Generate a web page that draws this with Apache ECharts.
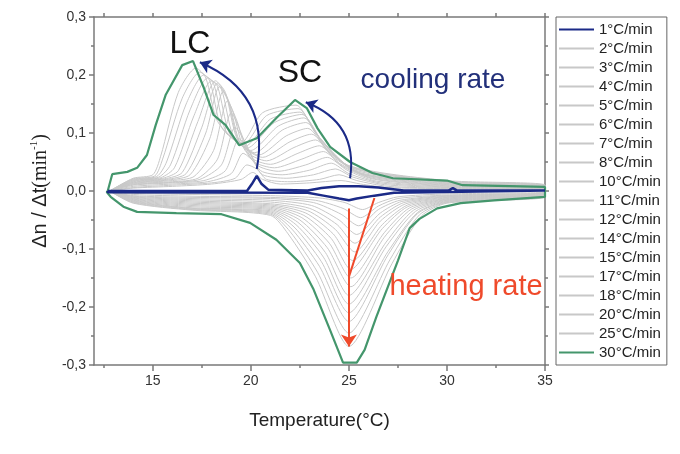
<!DOCTYPE html>
<html><head><meta charset="utf-8">
<script src="https://cdn.jsdelivr.net/npm/echarts@6/dist/echarts.min.js"></script>
<style>html,body{margin:0;padding:0;background:#fff}#c{width:680px;height:454px}</style>
</head><body><div id="c"></div>
<script>
// ---------- data (Temperature °C, Δn/Δt min^-1) ----------
const rateNames = ['1°C/min','2°C/min','3°C/min','4°C/min','5°C/min','6°C/min','7°C/min','8°C/min','10°C/min','11°C/min','12°C/min','14°C/min','15°C/min','17°C/min','18°C/min','20°C/min','25°C/min','30°C/min'];
const xTickValues = [15,20,25,30,35];
const xMinorValues = [12.5,17.5,22.5,27.5,32.5];

const cool1 = [[12.7,0],[19.8,0],[20.05,0.012],[20.3,0.026],[20.55,0.012],[20.9,0.002],[22.9,0.001],[23.6,0.005],[24.5,0.008],[25.5,0.008],[26.5,0.006],[27.8,0.001],[30.1,0.001],[30.3,0.005],[30.5,0.001],[35,0.001]];
const heat1 = [[35,-0.002],[27.3,-0.003],[26.3,-0.008],[25.4,-0.013],[25,-0.016],[24.5,-0.013],[23.7,-0.008],[22.9,-0.003],[12.7,-0.002],[12.7,0]];

const cool2 = [[12.8,0],[14,0.005],[16,0.008],[18,0.012],[19.5,0.02],[20.1,0.032],[20.6,0.02],[21.5,0.012],[23,0.014],[24.6,0.018],[25.6,0.012],[27,0.006],[30,0.004],[35,0.002]];
const heat2 = [[35,-0.002],[30,-0.005],[27.5,-0.01],[26.5,-0.02],[25.7,-0.032],[24.8,-0.02],[23.5,-0.012],[21,-0.008],[17,-0.006],[14,-0.004],[12.8,0]];
const cool3 = [[12.8,0],[14,0.006],[16,0.01],[18,0.014],[19.2,0.022],[19.8,0.045],[20.3,0.038],[20.8,0.02],[22,0.016],[23.5,0.02],[24.5,0.028],[25.4,0.018],[27,0.008],[30,0.005],[35,0.003]];
const heat3 = [[35,-0.003],[30,-0.007],[27.5,-0.013],[26.5,-0.026],[25.6,-0.046],[24.7,-0.03],[23.3,-0.016],[21,-0.011],[17,-0.009],[14,-0.006],[12.8,0]];
const cool4 = [[12.8,0],[14,0.008],[16,0.012],[17.8,0.016],[19,0.03],[19.6,0.065],[20.1,0.052],[20.6,0.028],[21.8,0.022],[23.2,0.028],[24.3,0.038],[25.2,0.024],[26.8,0.011],[30,0.006],[35,0.003]];
const heat4 = [[35,-0.003],[30,-0.008],[27.6,-0.016],[26.5,-0.032],[25.5,-0.06],[24.6,-0.04],[23.2,-0.02],[21,-0.013],[17,-0.011],[14,-0.008],[12.8,0]];
const cool5 = [[12.8,0],[14,0.01],[16,0.014],[17.6,0.018],[18.7,0.035],[19.4,0.09],[19.9,0.07],[20.5,0.035],[21.6,0.028],[23,0.036],[24.1,0.048],[25,0.03],[26.6,0.014],[30,0.007],[35,0.004]];
const heat5 = [[35,-0.004],[30,-0.009],[27.7,-0.018],[26.6,-0.038],[25.4,-0.075],[24.5,-0.05],[23.1,-0.025],[21,-0.016],[17,-0.013],[14,-0.009],[12.8,0]];
const cool6 = [[12.8,0],[14,0.011],[16,0.015],[17.4,0.02],[18.5,0.045],[19.2,0.11],[19.7,0.085],[20.3,0.045],[21.4,0.034],[22.8,0.045],[23.9,0.058],[24.9,0.036],[26.4,0.017],[30,0.008],[35,0.004]];
const heat6 = [[35,-0.004],[30,-0.01],[27.8,-0.02],[26.6,-0.045],[25.3,-0.09],[24.4,-0.058],[23,-0.03],[21,-0.019],[17,-0.015],[14,-0.01],[12.8,0]];
const cool7 = [[12.8,0],[14,0.012],[16,0.016],[17.3,0.022],[18.3,0.055],[19,0.135],[19.5,0.1],[20.1,0.052],[21.2,0.04],[22.6,0.055],[23.7,0.068],[24.7,0.042],[26.3,0.02],[30,0.009],[35,0.005]];
const heat7 = [[35,-0.005],[30,-0.011],[27.9,-0.022],[26.6,-0.052],[25.3,-0.105],[24.3,-0.066],[22.9,-0.034],[21,-0.022],[17,-0.017],[14,-0.011],[12.8,0]];
const cool8 = [[12.8,0],[14,0.013],[16,0.018],[17.1,0.025],[18.1,0.07],[18.8,0.155],[19.3,0.12],[19.9,0.06],[21,0.046],[22.4,0.065],[23.5,0.078],[24.5,0.048],[26.2,0.022],[30,0.01],[35,0.005]];
const heat8 = [[35,-0.005],[30,-0.012],[28,-0.024],[26.7,-0.058],[25.2,-0.12],[24.2,-0.074],[22.8,-0.038],[21,-0.024],[17,-0.019],[14,-0.012],[12.8,0]];
const cool10 = [[12.8,0],[14,0.014],[15.8,0.019],[16.9,0.028],[17.9,0.09],[18.6,0.172],[19.1,0.135],[19.7,0.07],[20.8,0.052],[22.2,0.075],[23.3,0.088],[24.3,0.056],[26,0.025],[30,0.011],[35,0.006]];
const heat10 = [[35,-0.006],[30,-0.013],[28,-0.027],[26.7,-0.065],[25.1,-0.135],[24.1,-0.082],[22.7,-0.042],[21,-0.026],[17,-0.021],[14,-0.013],[12.8,0]];
const cool11 = [[12.8,0],[14,0.015],[15.7,0.02],[16.7,0.03],[17.7,0.1],[18.4,0.18],[18.9,0.15],[19.5,0.08],[20.6,0.058],[22,0.085],[23.1,0.098],[24.1,0.064],[25.8,0.028],[30,0.012],[35,0.006]];
const heat11 = [[35,-0.006],[30,-0.014],[28.1,-0.029],[26.8,-0.072],[25.1,-0.15],[24,-0.09],[22.6,-0.046],[21,-0.028],[17,-0.023],[14,-0.014],[12.8,0]];
const cool12 = [[12.8,0],[14,0.016],[15.6,0.021],[16.5,0.032],[17.5,0.11],[18.3,0.186],[18.8,0.16],[19.4,0.085],[20.4,0.062],[21.8,0.095],[22.9,0.108],[23.9,0.07],[25.6,0.03],[30,0.013],[35,0.007]];
const heat12 = [[35,-0.007],[30,-0.015],[28.2,-0.031],[26.8,-0.08],[25.1,-0.165],[23.9,-0.098],[22.5,-0.05],[21,-0.03],[17,-0.025],[14,-0.015],[12.8,0]];
const cool14 = [[12.8,0],[14,0.017],[15.5,0.022],[16.3,0.035],[17.3,0.12],[18.2,0.19],[18.7,0.17],[19.3,0.09],[20.2,0.066],[21.6,0.105],[22.8,0.118],[23.8,0.076],[25.4,0.033],[30,0.014],[35,0.007]];
const heat14 = [[35,-0.007],[30,-0.016],[28.3,-0.033],[26.9,-0.088],[25,-0.18],[23.8,-0.106],[22.4,-0.054],[21,-0.032],[17,-0.027],[14,-0.016],[12.8,0]];
const cool15 = [[12.8,0],[14,0.018],[15.4,0.023],[16.1,0.04],[17.1,0.13],[18,0.19],[18.5,0.175],[19.1,0.095],[20,0.07],[21.4,0.112],[22.7,0.126],[23.7,0.082],[25.3,0.036],[30,0.015],[35,0.008]];
const heat15 = [[35,-0.008],[30,-0.017],[28.4,-0.035],[26.9,-0.096],[25,-0.195],[23.7,-0.114],[22.3,-0.058],[21,-0.034],[17,-0.029],[14,-0.017],[12.8,0]];
const cool17 = [[12.8,0],[14,0.019],[15.3,0.024],[15.9,0.045],[16.9,0.14],[17.8,0.195],[18.3,0.18],[18.9,0.1],[19.8,0.074],[21.2,0.118],[22.6,0.132],[23.6,0.088],[25.2,0.039],[30,0.016],[35,0.008]];
const heat17 = [[35,-0.008],[30,-0.018],[28.5,-0.037],[27,-0.104],[25,-0.21],[23.6,-0.122],[22.2,-0.062],[21,-0.036],[17,-0.03],[14,-0.018],[12.8,0]];
const cool18 = [[12.8,0],[14,0.02],[15.2,0.025],[15.7,0.05],[16.7,0.15],[17.6,0.2],[18.1,0.185],[18.7,0.105],[19.7,0.077],[21,0.124],[22.5,0.136],[23.5,0.092],[25.1,0.041],[30,0.016],[35,0.009]];
const heat18 = [[35,-0.009],[30,-0.019],[28.5,-0.039],[27,-0.11],[25,-0.225],[23.5,-0.13],[22.1,-0.066],[21,-0.038],[17,-0.031],[14,-0.019],[12.8,0]];
const cool20 = [[12.8,0],[14,0.021],[15.1,0.026],[15.5,0.055],[16.5,0.16],[17.4,0.205],[17.9,0.19],[18.5,0.11],[19.6,0.08],[20.8,0.13],[22.4,0.142],[23.4,0.096],[25,0.043],[30,0.017],[35,0.009]];
const heat20 = [[35,-0.009],[30,-0.02],[28.6,-0.041],[27.1,-0.118],[25,-0.245],[23.4,-0.14],[22,-0.07],[21,-0.04],[17,-0.032],[14,-0.02],[12.8,0]];
const cool25 = [[12.8,0],[14,0.022],[15,0.028],[15.4,0.06],[16.3,0.17],[17.2,0.212],[17.7,0.195],[18.3,0.12],[19.5,0.083],[20.6,0.135],[22.3,0.148],[23.3,0.1],[24.9,0.045],[30,0.018],[35,0.01]];
const heat25 = [[35,-0.01],[30,-0.021],[28.7,-0.043],[27.2,-0.125],[25,-0.268],[23.3,-0.148],[21.9,-0.074],[21,-0.042],[17,-0.033],[14,-0.021],[12.8,0]];

const cool30 = [[12.7,0],[12.93,0.029],[13.7,0.033],[14.2,0.04],[14.7,0.062],[15.15,0.114],[15.66,0.166],[16.5,0.217],[17.05,0.224],[17.6,0.178],[18.1,0.131],[18.7,0.114],[19.4,0.079],[20.3,0.091],[21.3,0.126],[22.25,0.157],[22.85,0.143],[23.4,0.108],[24.04,0.076],[25.06,0.05],[26.2,0.031],[27.25,0.022],[30,0.018],[30.8,0.01],[32.6,0.009],[35,0.007]];
const heat30 = [[35,-0.01],[32.4,-0.016],[30.7,-0.021],[29.5,-0.03],[28.6,-0.048],[28.1,-0.064],[27.5,-0.12],[26.4,-0.217],[25.8,-0.274],[25.4,-0.296],[24.7,-0.296],[24.04,-0.24],[23.2,-0.17],[22.5,-0.124],[21.3,-0.084],[19.96,-0.055],[18.5,-0.04],[16.2,-0.038],[14.2,-0.036],[13.5,-0.027],[12.85,-0.01],[12.65,-0.002],[12.7,0]];

const loops = [
  cool1.concat(heat1), cool2.concat(heat2), cool3.concat(heat3), cool4.concat(heat4),
  cool5.concat(heat5), cool6.concat(heat6), cool7.concat(heat7), cool8.concat(heat8),
  cool10.concat(heat10), cool11.concat(heat11), cool12.concat(heat12), cool14.concat(heat14),
  cool15.concat(heat15), cool17.concat(heat17), cool18.concat(heat18), cool20.concat(heat20),
  cool25.concat(heat25), cool30.concat(heat30)
];

// annotation arrows (data coordinates)
const arrowLC = [[20.3,0.038],[17.4,0.222]];
const arrowSC = [[25.06,0.022],[22.8,0.153]];
const arrowHeat = [[25,-0.03],[25,-0.268]];
const slantHeat = [[25,-0.148],[26.3,-0.012]];

// ---------- chart ----------
const F = '"Liberation Sans", Arial, Helvetica, sans-serif';
const GRAY = '#c8c8c8', GREEN = '#44966c', BLUE = '#1b2a87', RED = '#ef4a2b', NAVY = '#22307a';
const chart = echarts.init(document.getElementById('c'), null, {renderer: 'canvas'});

const series = loops.map((d, i) => {
  const last = i === loops.length - 1, first = i === 0;
  const color = first ? BLUE : (last ? GREEN : GRAY);
  return {
    name: rateNames[i], type: 'line', data: d, symbol: 'none', smooth: (first || last) ? false : 0.25,
    xAxisIndex: 0, yAxisIndex: 0,
    z: first ? 5 : (last ? 4 : 2),
    lineStyle: {color: color, width: first ? 2.5 : (last ? 2.2 : 1)},
    itemStyle: {color: color}
  };
});
const arrowLine = (coords, color, curv, sym, size) => ({
  type: 'lines', coordinateSystem: 'cartesian2d', xAxisIndex: 0, yAxisIndex: 0, z: 6,
  symbol: sym, symbolSize: size, silent: true,
  lineStyle: {color: color, width: 2, curveness: curv, opacity: 1},
  data: [{coords: coords}]
});
series.push(arrowLine(arrowLC, BLUE, -0.4, ['none','arrow'], 11));
series.push(arrowLine(arrowSC, BLUE, -0.4, ['none','arrow'], 11));
series.push(arrowLine(arrowHeat, RED, 0, ['none','arrow'], 12));
series.push(arrowLine(slantHeat, RED, 0, ['none','none'], 1));

const axisLineStyle = {color: '#7a7a7a', width: 1.5};
chart.setOption({
  animation: false,
  textStyle: {fontFamily: F},
  grid: {left: 94, right: 135, top: 17, bottom: 89},
  legend: {
    data: rateNames, orient: 'vertical', left: 556, top: 17,
    itemWidth: 35, itemHeight: 14, itemGap: 4,
    padding: [5, 6, 5, 2],
    borderColor: '#666', borderWidth: 1,
    itemStyle: {opacity: 0},
    textStyle: {fontSize: 15, color: '#222', fontFamily: F, lineHeight: 15},
    selectedMode: false
  },
  xAxis: [
    {type: 'value', min: 12, max: 35, position: 'bottom',
     name: 'Temperature(°C)', nameLocation: 'middle', nameGap: 46,
     nameTextStyle: {fontSize: 19, color: '#222', fontFamily: F},
     axisLine: {show: true, lineStyle: axisLineStyle, onZero: false},
     axisTick: {show: true, length: 6, customValues: xTickValues, lineStyle: axisLineStyle},
     axisLabel: {customValues: xTickValues, fontSize: 14, color: '#333', margin: 9},
     splitLine: {show: false}},
    {type: 'value', min: 12, max: 35, position: 'top',
     axisLine: {show: true, lineStyle: axisLineStyle, onZero: false},
     axisTick: {show: true, length: 4, customValues: xTickValues.concat(xMinorValues), lineStyle: axisLineStyle},
     axisLabel: {show: false}, splitLine: {show: false}},
    {type: 'value', min: 12, max: 35, position: 'bottom',
     axisLine: {show: false, onZero: false},
     axisTick: {show: true, length: 3, customValues: xMinorValues, lineStyle: axisLineStyle},
     axisLabel: {show: false}, splitLine: {show: false}}
  ],
  yAxis: [
    {type: 'value', min: -0.3, max: 0.3, interval: 0.1, position: 'left',
     name: '{a|Δn / Δt}{b|(min}{c|-1}{b|)}', nameLocation: 'middle', nameGap: 37,
     nameTextStyle: {color: '#222', rich: {
       a: {fontSize: 20, fontFamily: F, color: '#222', lineHeight: 24},
       b: {fontSize: 20, fontFamily: '"Liberation Serif", "DejaVu Serif", serif', color: '#222', lineHeight: 24},
       c: {fontSize: 11, fontFamily: '"Liberation Serif", serif', color: '#222', verticalAlign: 'top', lineHeight: 24, padding: [0,0,10,0]}
     }},
     axisLine: {show: true, lineStyle: axisLineStyle, onZero: false},
     axisTick: {show: true, length: 5, lineStyle: axisLineStyle},
     minorTick: {show: true, splitNumber: 2, length: 3, lineStyle: axisLineStyle},
     axisLabel: {fontSize: 14, color: '#333', margin: 8,
       formatter: v => (Math.abs(v) < 1e-9 ? '0.0' : v.toFixed(1)).replace('.', ',')},
     splitLine: {show: false}, minorSplitLine: {show: false}},
    {type: 'value', min: -0.3, max: 0.3, interval: 0.1, position: 'right',
     axisLine: {show: true, lineStyle: axisLineStyle, onZero: false},
     axisTick: {show: true, length: 4, lineStyle: axisLineStyle},
     minorTick: {show: true, splitNumber: 2, length: 3, lineStyle: axisLineStyle},
     axisLabel: {show: false}, splitLine: {show: false}, minorSplitLine: {show: false}}
  ],
  graphic: [
    {type: 'text', x: 190, y: 44, style: {text: 'LC', font: '32px ' + F, fill: '#111', align: 'center', verticalAlign: 'middle'}, z: 10},
    {type: 'text', x: 300, y: 73, style: {text: 'SC', font: '32px ' + F, fill: '#111', align: 'center', verticalAlign: 'middle'}, z: 10},
    {type: 'text', x: 433, y: 80, style: {text: 'cooling rate', font: '28px ' + F, fill: NAVY, align: 'center', verticalAlign: 'middle'}, z: 10},
    {type: 'text', x: 466, y: 287, style: {text: 'heating rate', font: '29px ' + F, fill: RED, align: 'center', verticalAlign: 'middle'}, z: 10}
  ],
  series: series
});
</script></body></html>
